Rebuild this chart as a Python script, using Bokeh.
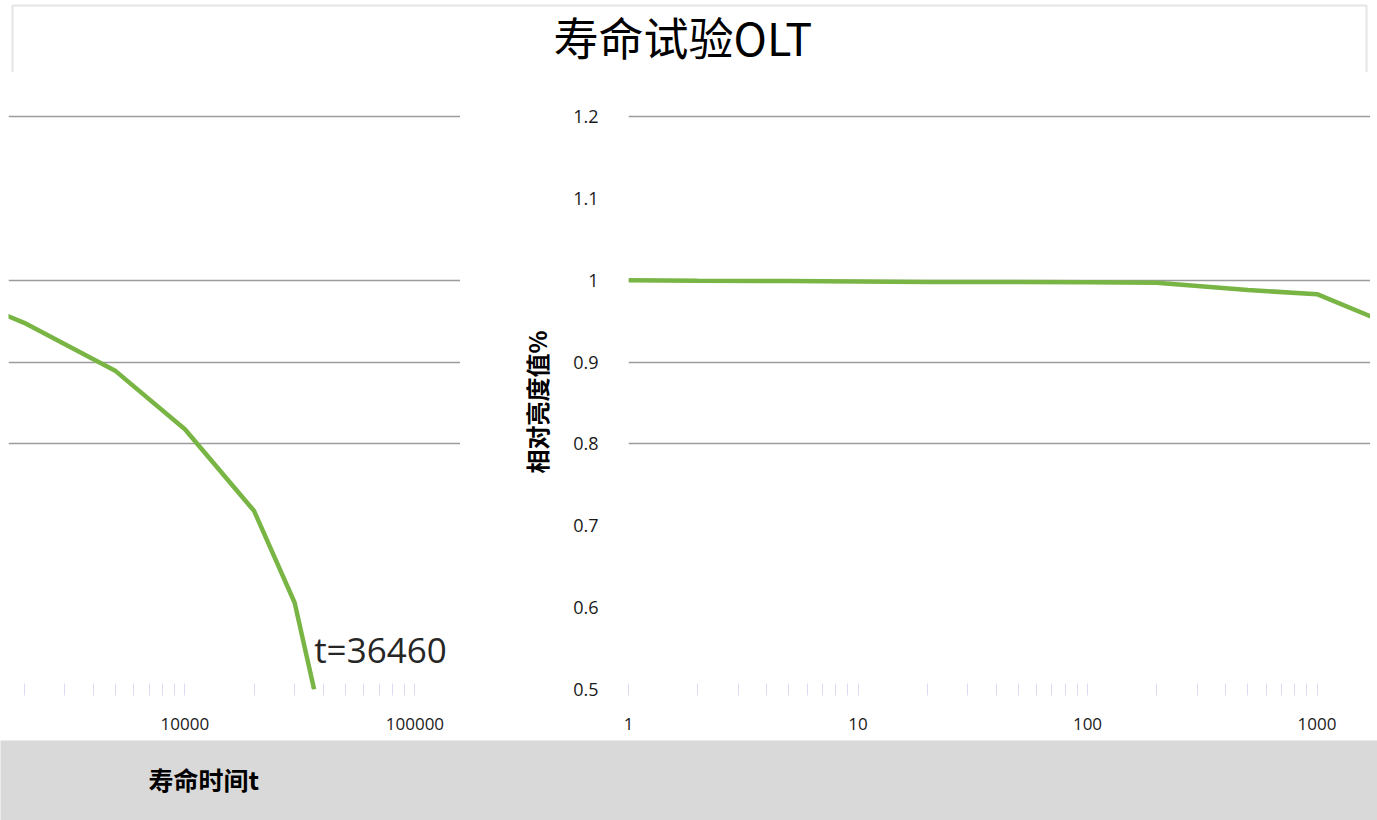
from bokeh.plotting import figure
from bokeh.models import Range1d, FixedTicker, Label, BoxAnnotation, NumeralTickFormatter, Grid
from bokeh.layouts import column, row
from bokeh.embed import file_html
from bokeh.resources import INLINE

# ---- data ----
life_time = [1, 2, 5, 10, 20, 50, 100, 200, 500, 1000, 2000, 5000, 10000, 20000, 30000, 36460]
rel_lum = [1.000, 0.9995, 0.999, 0.9985, 0.998, 0.9978, 0.9975, 0.997, 0.988, 0.983,
           0.948, 0.889, 0.818, 0.718, 0.606, 0.500]
y_ticks = [0.5, 0.6, 0.7, 0.8, 0.9, 1.0, 1.1, 1.2]
y_grid_ticks = [0.8, 0.9, 1.0, 1.2]
decades = [1, 10, 100, 1000, 10000, 100000]
minor_ticks = [d * k for d in decades for k in range(2, 10)]
title_text = "寿命试验OLT"
x_title = "寿命时间t"
y_title = "相对亮度值%"
note_text = "t=36460"
note_t = 36460
note_v = 0.5

# the log axis is shown in two pieces: 1 .. split, then split .. end
split_t = 1710
left_end_t = 157800
grid_end_t = 105000
y_lo, y_hi = 0.5, 1.2025

LINE_COLOR = "#78b544"
GRID_COLOR = "#9c9c9c"
TICK_FONT = "Open Sans"
CJK_FONT = "Noto Sans CJK SC"


def style_x_axis(p):
    ax = p.xaxis[0]
    ax.ticker = FixedTicker(ticks=decades, minor_ticks=minor_ticks)
    ax.formatter = NumeralTickFormatter(format="0")
    ax.axis_line_color = None
    ax.major_tick_line_color = "#dadcf2"
    ax.minor_tick_line_color = "#dadcf2"
    ax.major_tick_in = 6
    ax.major_tick_out = 6
    ax.minor_tick_in = 6
    ax.minor_tick_out = 6
    ax.major_label_standoff = 22
    ax.major_label_text_font = TICK_FONT
    ax.major_label_text_font_size = "17px"
    ax.major_label_text_color = "#1a1a1a"


def set_grid(p, bounds="auto"):
    for g in p.xgrid:
        g.visible = False
    if len(p.ygrid) == 0:
        p.add_layout(Grid(dimension=1), "center")
    for g in p.ygrid:
        g.ticker = FixedTicker(ticks=y_grid_ticks)
        g.grid_line_color = GRID_COLOR
        g.grid_line_width = 1.6
        g.bounds = bounds


# ---- header with title ----
header = figure(width=1377, height=72, x_range=Range1d(0, 1377), y_range=Range1d(0, 72),
                min_border=0, x_axis_location=None, y_axis_location=None,
                outline_line_color=None, toolbar_location=None, output_backend="svg")
header.grid.visible = False
header.add_layout(BoxAnnotation(left=12, right=1366, top=67, bottom=-10, fill_color=None,
                                line_color="#a6a6a6", line_width=2))
header.add_layout(Label(x=553, y=69, text=title_text, text_baseline="top",
                        text_font=CJK_FONT, text_font_size="45px", text_color="#000000"))

# ---- left panel (continuation of the log axis) ----
pa = figure(width=460, height=668, x_axis_type="log",
            x_range=Range1d(split_t, left_end_t), y_range=Range1d(y_lo, y_hi),
            y_axis_location=None, min_border_left=8, min_border_right=0,
            min_border_top=42, min_border_bottom=51,
            outline_line_color=None, toolbar_location=None, output_backend="svg")
pa.line(life_time, rel_lum, line_color=LINE_COLOR, line_width=4.5)
style_x_axis(pa)
set_grid(pa, bounds=(split_t, grid_end_t))
pa.add_layout(Label(x=note_t, y=note_v, text=note_text, y_offset=17, text_baseline="bottom",
                    text_font=TICK_FONT, text_font_size="35px", text_color="#262626"))

# ---- right panel (main axis) ----
pb = figure(width=910, height=668, x_axis_type="log",
            x_range=Range1d(1, split_t), y_range=Range1d(y_lo, y_hi),
            min_border_left=168, min_border_right=0,
            min_border_top=42, min_border_bottom=51,
            outline_line_color=None, toolbar_location=None, output_backend="svg")
pb.line(life_time, rel_lum, line_color=LINE_COLOR, line_width=4.5)
style_x_axis(pb)
set_grid(pb)
ya = pb.yaxis[0]
ya.ticker = FixedTicker(ticks=y_ticks)
ya.major_label_overrides = {1.0: "1"}
ya.axis_line_color = None
ya.major_tick_line_color = None
ya.minor_tick_line_color = None
ya.major_tick_out = 0
ya.major_label_standoff = 30
ya.major_label_text_font = TICK_FONT
ya.major_label_text_font_size = "18px"
ya.major_label_text_color = "#1a1a1a"
ya.axis_label = y_title
ya.axis_label_text_font = CJK_FONT
ya.axis_label_text_font_style = "bold"
ya.axis_label_text_font_size = "24px"
ya.axis_label_text_color = "#000000"
ya.axis_label_standoff = 16

# ---- bottom grey band with the x-axis title ----
footer = figure(width=1377, height=80, x_range=Range1d(0, 1377), y_range=Range1d(0, 80),
                min_border=0, x_axis_location=None, y_axis_location=None,
                outline_line_color=None, toolbar_location=None, output_backend="svg",
                background_fill_color="#d9d9d9", border_fill_color="#d9d9d9")
footer.grid.visible = False
footer.add_layout(Label(x=148, y=42, text=x_title, text_baseline="middle",
                        text_font=CJK_FONT, text_font_style="bold",
                        text_font_size="25px", text_color="#000000"))

layout = column(header, row(pa, pb), footer)
open("out.html", "w").write(file_html(layout, INLINE))
